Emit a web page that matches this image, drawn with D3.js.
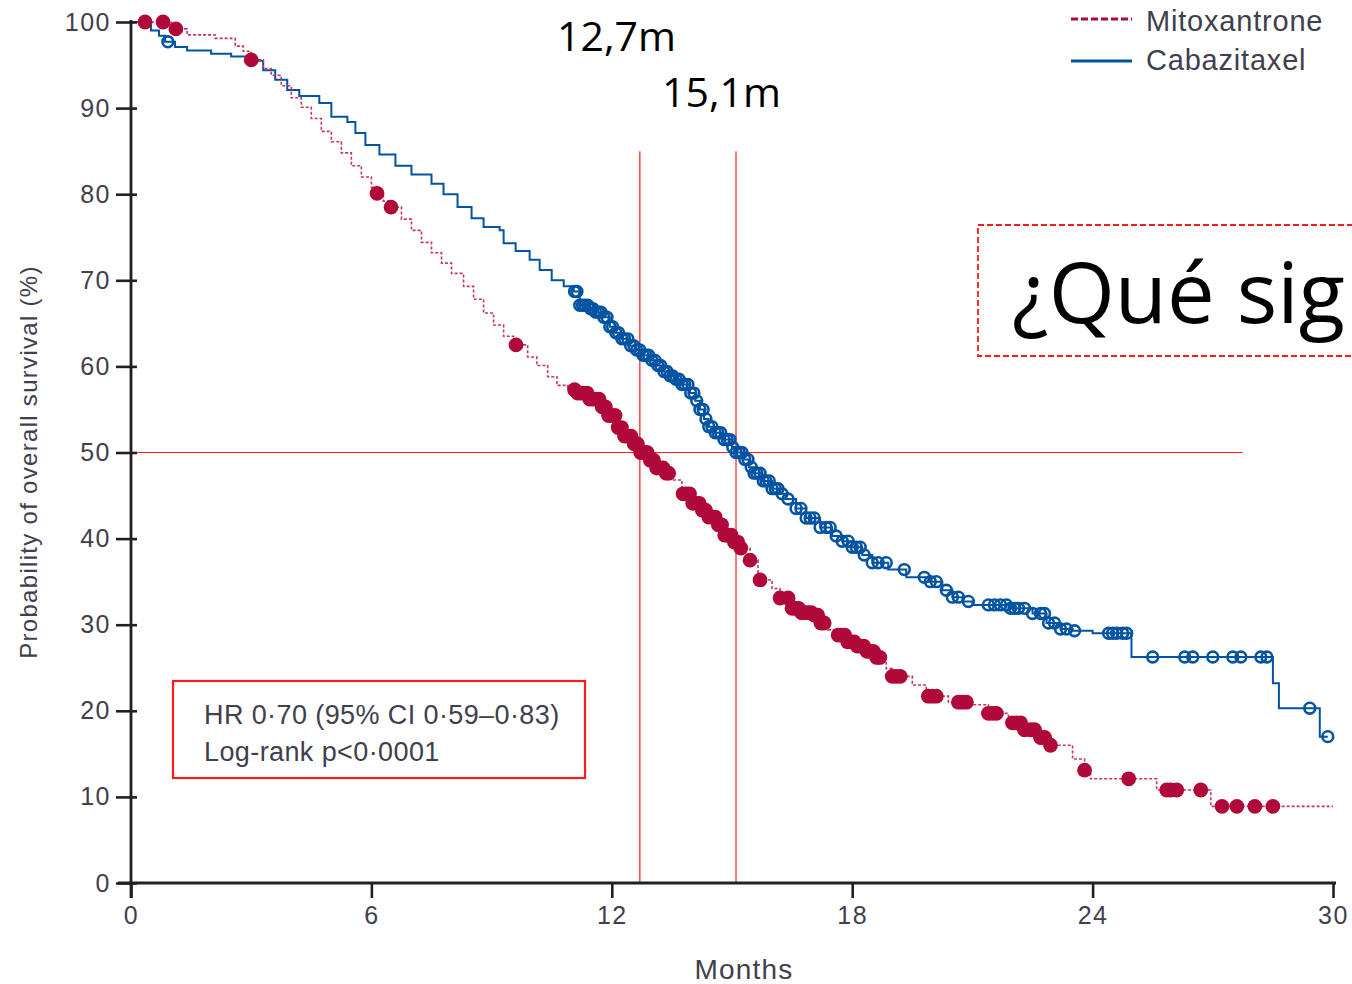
<!DOCTYPE html>
<html>
<head>
<meta charset="utf-8">
<script src="https://cdnjs.cloudflare.com/ajax/libs/d3/7.8.5/d3.min.js"></script>
<style>
  html, body { margin: 0; padding: 0; background: #fff; }
  svg { display: block; }
</style>
</head>
<body>
<svg id="chart" width="1352" height="984"></svg>
<script>
// Kaplan–Meier overall survival: Mitoxantrone vs Cabazitaxel

const xTicks = [0, 6, 12, 18, 24, 30];
const yTicks = [0, 10, 20, 30, 40, 50, 60, 70, 80, 90, 100];

// step points [month, survival %]
const mitoxantroneSteps = [
  [0, 100], [1.0, 99.2], [1.4, 98.5], [2.1, 98.1], [2.6, 97.2], [2.8, 96.6], [3.0, 95.6],
  [3.3, 94.6], [3.5, 93.8], [3.75, 92.6], [4.0, 91.2], [4.25, 90.1], [4.5, 88.8], [4.75, 87.3],
  [5.0, 86.1], [5.25, 84.8], [5.5, 83.3], [5.75, 82.0], [6.0, 80.8], [6.14, 80.1], [6.3, 79.2],
  [6.49, 78.5], [6.75, 77.1], [7.0, 75.8], [7.25, 74.4], [7.5, 73.2], [7.75, 72.0], [8.0, 70.8],
  [8.3, 69.3], [8.55, 67.8], [8.8, 66.2], [9.05, 64.8], [9.3, 63.5], [9.55, 62.5], [9.9, 61.1],
  [10.13, 60.1], [10.4, 58.8], [10.63, 57.8], [10.9, 57.3], [11.1, 56.9], [11.4, 56.2], [11.7, 55.3],
  [11.9, 54.3], [12.1, 52.9], [12.3, 51.9], [12.5, 51.0], [12.7, 50.0], [12.9, 49.1], [13.1, 48.2],
  [13.3, 47.6], [13.5, 46.8], [13.75, 45.2], [14.0, 44.1], [14.2, 43.3], [14.4, 42.5], [14.6, 41.6],
  [14.8, 40.4], [15.0, 39.6], [15.2, 38.9], [15.45, 37.5], [15.65, 35.2], [16.0, 34.2], [16.2, 33.1],
  [16.5, 31.9], [16.7, 31.4], [17.0, 31.1], [17.2, 30.2], [17.4, 29.4], [17.6, 28.8], [17.85, 28.0],
  [18.1, 27.5], [18.35, 26.9], [18.6, 26.2], [18.85, 24.9], [19.0, 24.0], [19.5, 23.0], [19.85, 21.7],
  [20.4, 21.0], [20.9, 20.7], [21.4, 19.7], [21.9, 18.6], [22.3, 17.8], [22.6, 16.9], [22.85, 16.0],
  [23.5, 14.4], [23.8, 13.1], [23.95, 12.1], [25.6, 10.8], [26.95, 8.9], [30.0, 8.9]
];
const mitoxantroneCensored = [
  0.35, 0.80, 1.12, 3.0, 6.14, 6.49, 9.61,
  11.07, 11.15, 11.23, 11.3, 11.38, 11.45, 11.53, 11.6, 11.68, 11.76, 11.84, 11.92, 12.0, 12.08,
  12.16, 12.24, 12.32, 12.4, 12.48, 12.56, 12.64, 12.72, 12.8, 12.88, 12.96, 13.04, 13.12, 13.2,
  13.28, 13.36, 13.42,
  13.78, 13.86, 13.94, 14.02, 14.1, 14.18, 14.26, 14.34, 14.42, 14.5, 14.58, 14.66, 14.74, 14.82,
  14.9, 14.98, 15.06, 15.14, 15.22, 15.45, 15.7,
  16.2, 16.4, 16.5, 16.58, 16.66, 16.74, 16.82, 16.9, 16.98, 17.06, 17.14, 17.22, 17.3,
  17.65, 17.73, 17.81, 17.89, 17.97, 18.05, 18.13, 18.21, 18.29, 18.37, 18.45, 18.53, 18.61, 18.69,
  19.0, 19.1, 19.2, 19.9, 20.0, 20.1, 20.65, 20.75, 20.85, 21.4, 21.5, 21.6, 22.0, 22.1, 22.2,
  22.3, 22.45, 22.55, 22.7, 22.8, 22.95, 23.8, 24.9, 25.85, 25.95, 26.1, 26.7, 27.23, 27.6,
  28.05, 28.5
];

const cabazitaxelSteps = [
  [0, 100], [0.5, 99.0], [0.7, 98.4], [0.85, 97.7], [1.1, 97.1], [1.4, 96.7], [2.0, 96.3],
  [2.5, 96.0], [3.0, 95.5], [3.3, 94.4], [3.6, 93.3], [3.9, 92.1], [4.2, 91.4], [4.7, 90.6],
  [5.0, 89.0], [5.4, 88.4], [5.6, 87.1], [5.85, 85.7], [6.2, 84.6], [6.6, 83.3], [7.0, 82.3],
  [7.5, 81.2], [7.8, 80.0], [8.15, 78.5], [8.5, 77.2], [8.8, 76.2], [9.2, 75.8], [9.3, 74.3],
  [9.6, 73.4], [9.95, 72.4], [10.2, 71.2], [10.5, 70.0], [10.8, 69.3], [11.05, 68.7], [11.2, 67.1],
  [11.45, 66.7], [11.6, 66.3], [11.75, 65.7], [11.95, 64.6], [12.1, 63.9], [12.25, 63.2], [12.45, 62.4],
  [12.6, 61.9], [12.75, 61.3], [12.95, 60.7], [13.1, 60.1], [13.25, 59.4], [13.45, 58.9], [13.6, 58.5],
  [13.75, 57.9], [13.95, 56.9], [14.08, 56.0], [14.2, 55.0], [14.3, 53.9], [14.42, 53.0], [14.55, 52.3],
  [14.75, 51.5], [15.0, 50.6], [15.1, 50.0], [15.3, 49.2], [15.42, 48.3], [15.55, 47.6], [15.75, 46.7],
  [16.0, 45.8], [16.2, 45.2], [16.35, 44.6], [16.6, 43.5], [16.85, 42.4], [17.2, 41.3], [17.5, 40.3],
  [17.75, 39.7], [18.0, 39.0], [18.25, 38.1], [18.5, 37.2], [18.9, 36.4], [19.35, 35.5], [19.9, 35.0],
  [20.25, 34.0], [20.5, 33.2], [20.75, 32.7], [21.0, 32.3], [21.9, 31.9], [22.5, 31.3], [22.85, 30.2],
  [23.2, 29.5], [23.5, 29.3], [24.0, 29.0], [24.97, 26.25], [28.5, 23.2], [28.65, 20.3],
  [29.67, 17.0], [29.87, 17.0]
];
const cabazitaxelCensored = [
  0.92,
  11.07, 11.13, 11.2, 11.27, 11.33, 11.4, 11.47, 11.53, 11.6, 11.67, 11.73, 11.8, 11.88, 11.95,
  12.02, 12.1, 12.17, 12.25, 12.32, 12.4, 12.47, 12.55, 12.62, 12.7, 12.78, 12.85, 12.92, 13.0,
  13.08, 13.15, 13.22, 13.3, 13.38, 13.45, 13.52, 13.6, 13.68, 13.75, 13.82, 13.9, 13.97, 14.05,
  14.12, 14.2, 14.28, 14.35, 14.42, 14.5, 14.58, 14.65, 14.72, 14.8, 14.88, 14.95, 15.02, 15.1,
  15.18, 15.25, 15.32, 15.4, 15.48, 15.55, 15.62, 15.7, 15.78, 15.85, 15.93, 16.0, 16.08, 16.15,
  16.25, 16.4, 16.6, 16.72, 16.85, 16.95, 17.05, 17.2, 17.35, 17.45, 17.6, 17.75, 17.9, 18.0,
  18.1, 18.2, 18.3, 18.5, 18.65, 18.85, 19.3, 19.8, 19.95, 20.1, 20.35, 20.5, 20.65, 20.9,
  21.4, 21.55, 21.7, 21.85, 21.95, 22.05, 22.15, 22.3, 22.5, 22.7, 22.8, 22.9, 23.05, 23.2,
  23.35, 23.55, 24.4, 24.5, 24.6, 24.75, 24.85, 25.5, 26.3, 26.5, 27.0, 27.5, 27.7, 28.2,
  28.35, 29.42, 29.87
];

const medians = [12.7, 15.1];          // median OS, months
const medianLabels = ["12,7m", "15,1m"];
const halfSurvival = 50;                // horizontal reference level
const halfLineEnd = 27.75;              // months
const medianLineTop = 85;               // survival % where median markers start

const seriesNames = ["Mitoxantrone", "Cabazitaxel"];
const statsLines = ["HR 0·70 (95% CI 0·59–0·83)", "Log-rank p<0·0001"];
const questionText = "¿Qué significa?";

const RED = "#b1083a";
const BLUE = "#0253a1";
const AXIS = "#231f20";
const LABEL = "#3f3f4e";
const MARK = "#ff1a1a";

const svg = d3.select("#chart");

const x = d3.scaleLinear().domain([0, 30]).range([131, 1333]);
const y = d3.scaleLinear().domain([0, 100]).range([883, 22]);

const labelFont = "'Liberation Sans', Arial, sans-serif";

// reference lines for the medians
const ref = svg.append("g").attr("stroke", MARK).attr("stroke-width", 1.2);
ref.append("line")
  .attr("x1", x(0)).attr("x2", x(halfLineEnd))
  .attr("y1", y(halfSurvival)).attr("y2", y(halfSurvival));
ref.selectAll("line.med").data(medians).join("line").attr("class", "med")
  .attr("x1", d => x(d)).attr("x2", d => x(d))
  .attr("y1", y(medianLineTop)).attr("y2", y(0));

// step curves
const line = d3.line().x(d => x(d[0])).y(d => y(d[1])).curve(d3.curveStepAfter);

function survivalAt(steps, t) {
  const i = d3.bisector(d => d[0]).right(steps, t) - 1;
  return steps[Math.max(0, i)][1];
}

svg.append("path")
  .datum(cabazitaxelSteps)
  .attr("d", line)
  .attr("fill", "none")
  .attr("stroke", BLUE)
  .attr("stroke-width", 2);

svg.append("g").selectAll("circle")
  .data(cabazitaxelCensored).join("circle")
  .attr("cx", d => x(d))
  .attr("cy", d => y(survivalAt(cabazitaxelSteps, d)))
  .attr("r", 5.4)
  .attr("fill", "none")
  .attr("stroke", BLUE)
  .attr("stroke-width", 2.6);

svg.append("path")
  .datum(mitoxantroneSteps)
  .attr("d", line)
  .attr("fill", "none")
  .attr("stroke", "#c4365e")
  .attr("stroke-width", 1.6)
  .attr("stroke-dasharray", "3,2");

svg.append("g").selectAll("circle")
  .data(mitoxantroneCensored).join("circle")
  .attr("cx", d => x(d))
  .attr("cy", d => y(survivalAt(mitoxantroneSteps, d)))
  .attr("r", 7.4)
  .attr("fill", RED);

// axes
const xAxis = svg.append("g")
  .attr("transform", `translate(0,${y(0)})`)
  .call(d3.axisBottom(x).tickValues(xTicks).tickSize(15).tickPadding(8).tickFormat(d3.format("d")));
const yAxis = svg.append("g")
  .attr("transform", `translate(${x(0)},0)`)
  .call(d3.axisLeft(y).tickValues(yTicks).tickSize(15).tickPadding(5).tickFormat(d3.format("d")));

[xAxis, yAxis].forEach(g => {
  g.select(".domain").remove();
  g.selectAll(".tick line").attr("stroke", AXIS).attr("stroke-width", 2.6);
  g.selectAll(".tick text")
    .attr("fill", LABEL)
    .style("font-family", labelFont)
    .style("font-size", "25px")
    .style("letter-spacing", "1.5px");
});
yAxis.selectAll(".tick line").attr("x2", 6).attr("x1", -15);
xAxis.selectAll(".tick text").attr("dy", "0.7em");

// axis spines
svg.append("line")
  .attr("x1", x(0)).attr("x2", x(0)).attr("y1", y(100) - 2).attr("y2", y(0) + 15)
  .attr("stroke", AXIS).attr("stroke-width", 2.8);
svg.append("line")
  .attr("x1", x(0) - 13).attr("x2", x(30) + 3).attr("y1", y(0)).attr("y2", y(0))
  .attr("stroke", AXIS).attr("stroke-width", 2.8);

// axis titles
svg.append("text")
  .attr("x", x(15.3)).attr("y", 979)
  .attr("text-anchor", "middle")
  .attr("fill", LABEL)
  .style("font-family", labelFont).style("font-size", "28px").style("letter-spacing", "1.2px")
  .text("Months");

svg.append("text")
  .attr("transform", "translate(37,462) rotate(-90)")
  .attr("text-anchor", "middle")
  .attr("fill", LABEL)
  .style("font-family", labelFont).style("font-size", "24px").style("letter-spacing", "1.3px")
  .text("Probability of overall survival (%)");

// legend
const legend = svg.append("g");
legend.append("line")
  .attr("x1", 1071).attr("x2", 1132).attr("y1", 19).attr("y2", 19)
  .attr("stroke", RED).attr("stroke-width", 3).attr("stroke-dasharray", "7,3");
legend.append("line")
  .attr("x1", 1071).attr("x2", 1132).attr("y1", 61).attr("y2", 61)
  .attr("stroke", BLUE).attr("stroke-width", 3);
legend.selectAll("text").data(seriesNames).join("text")
  .attr("x", 1146).attr("y", (d, i) => 31 + i * 39)
  .attr("fill", LABEL)
  .style("font-family", labelFont).style("font-size", "29px").style("letter-spacing", "0.8px")
  .text(d => d);

// statistics box
svg.append("rect")
  .attr("x", 173).attr("y", 681).attr("width", 412).attr("height", 97)
  .attr("fill", "none").attr("stroke", MARK).attr("stroke-width", 2.2);
svg.append("g").selectAll("text").data(statsLines).join("text")
  .attr("x", 204).attr("y", (d, i) => 724 + i * 37)
  .attr("fill", LABEL)
  .style("font-family", labelFont).style("font-size", "27px").style("letter-spacing", "0.4px")
  .text(d => d);

// median annotations
svg.append("g").selectAll("text").data(medianLabels).join("text")
  .attr("x", (d, i) => [557, 662][i])
  .attr("y", (d, i) => [51, 107][i])
  .attr("fill", "#000")
  .style("font-family", "'Open Sans', sans-serif").style("font-size", "41px")
  .text(d => d);

// question box, running off the right edge
svg.append("rect")
  .attr("x", 978).attr("y", 225).attr("width", 400).attr("height", 131)
  .attr("fill", "none").attr("stroke", MARK).attr("stroke-width", 1.8)
  .attr("stroke-dasharray", "6,3");
svg.append("text")
  .attr("x", 1012).attr("y", 323)
  .attr("fill", "#000")
  .style("font-family", "'Open Sans', sans-serif").style("font-size", "85px")
  .text(questionText);
</script>
</body>
</html>
